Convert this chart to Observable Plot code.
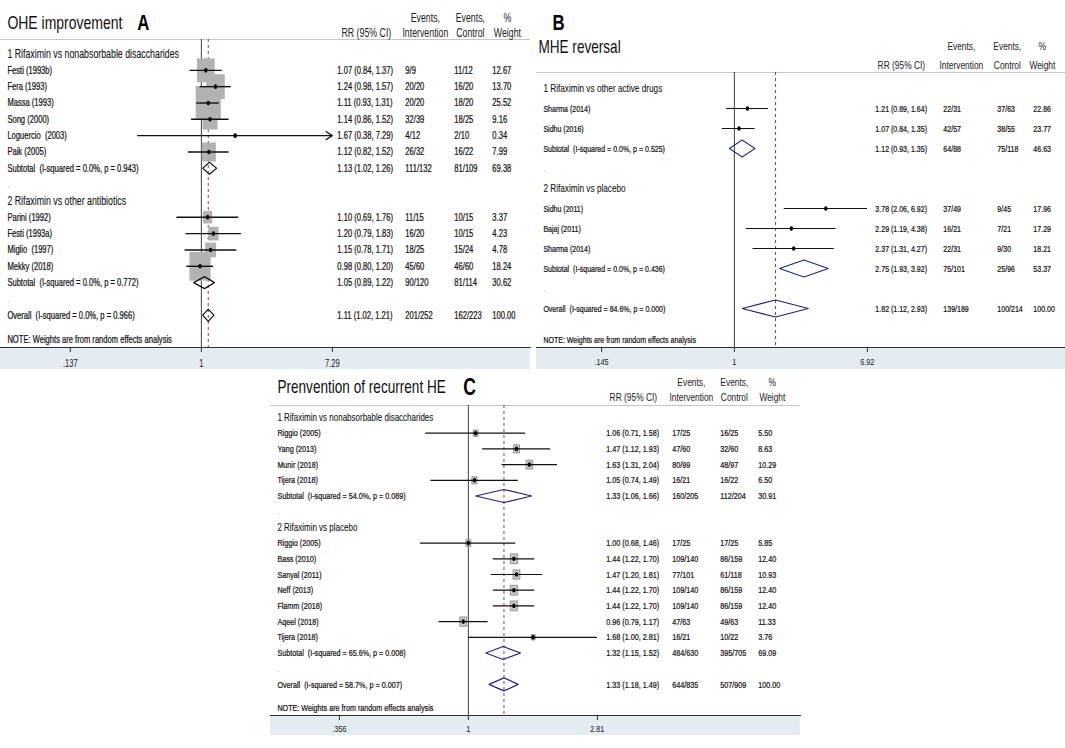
<!DOCTYPE html>
<html><head><meta charset="utf-8">
<script src="https://cdn.jsdelivr.net/npm/d3@7"></script>
<script src="https://cdn.jsdelivr.net/npm/@observablehq/plot@0.6"></script>
<style>
body{margin:0;background:#fff;}
#root{position:relative;width:1065px;height:748px;overflow:hidden;background:#fff;}
.panel{position:absolute;transform-origin:0 0;}
.band{position:absolute;left:0;right:0;background:#e3edf1;}
</style></head><body><div id="root"></div>
<script>
// ================= Panel A : OHE improvement =================
const groupsA = ["1 Rifaximin vs nonabsorbable disaccharides", "2 Rifaximin vs other antibiotics"];
const studiesA = ["Festi (1993b)", "Fera (1993)", "Massa (1993)", "Song (2000)", "Loguercio  (2003)", "Paik (2005)",
                  "Parini (1992)", "Festi (1993a)", "Miglio  (1997)", "Mekky (2018)"];
const groupOfA = [1, 1, 1, 1, 1, 1, 2, 2, 2, 2];
const rrA = [1.07, 1.24, 1.11, 1.14, 1.67, 1.12, 1.10, 1.20, 1.15, 0.98];
const loA = [0.84, 0.98, 0.93, 0.86, 0.38, 0.82, 0.69, 0.79, 0.78, 0.80];
const hiA = [1.37, 1.57, 1.31, 1.52, 7.29, 1.52, 1.76, 1.83, 1.71, 1.20];
const evIntA = ["9/9", "20/20", "20/20", "32/39", "4/12", "26/32", "11/15", "16/20", "18/25", "45/60"];
const evCtlA = ["11/12", "16/20", "18/20", "18/25", "2/10", "16/22", "10/15", "10/15", "15/24", "46/60"];
const weightA = [12.67, 13.70, 25.52, 9.16, 0.34, 7.99, 3.37, 4.23, 4.78, 18.24];
const arrowsA = ["Loguercio  (2003)"];
const subRrA = [1.13, 1.05], subLoA = [1.02, 0.89], subHiA = [1.26, 1.22];
const subIntA = ["111/132", "90/120"], subCtlA = ["81/109", "81/114"], subWA = [69.38, 30.62];
const subI2A = [0.0, 0.0], subPA = [0.943, 0.772];
const overallA = [1.11, 1.02, 1.21];
const overallEvA = ["201/252", "162/223"];
const overallI2PA = [0.0, 0.966];
const ticksA = [0.137, 1, 7.29];
const tickLabelsA = [".137", "1", "7.29"];

// ================= Panel B : MHE reversal =================
const groupsB = ["1 Rifaximin vs other active drugs", "2 Rifaximin vs placebo"];
const studiesB = ["Sharma (2014)", "Sidhu (2016)", "Sidhu (2011)", "Bajaj (2011)", "Sharma (2014)"];
const groupOfB = [1, 1, 2, 2, 2];
const rrB = [1.21, 1.07, 3.78, 2.29, 2.37];
const loB = [0.89, 0.84, 2.06, 1.19, 1.31];
const hiB = [1.64, 1.35, 6.92, 4.38, 4.27];
const evIntB = ["22/31", "42/57", "37/49", "16/21", "22/31"];
const evCtlB = ["37/63", "38/55", "9/45", "7/21", "9/30"];
const weightB = [22.86, 23.77, 17.96, 17.29, 18.21];
const arrowsB = [];
const subRrB = [1.12, 2.75], subLoB = [0.93, 1.93], subHiB = [1.35, 3.92];
const subIntB = ["64/88", "75/101"], subCtlB = ["75/118", "25/96"], subWB = [46.63, 53.37];
const subI2B = [0.0, 0.0], subPB = [0.525, 0.436];
const overallB = [1.82, 1.12, 2.93];
const overallEvB = ["139/189", "100/214"];
const overallI2PB = [84.6, 0.000];
const ticksB = [0.145, 1, 6.92];
const tickLabelsB = [".145", "1", "6.92"];

// ================= Panel C : Prevention of recurrent HE =================
const groupsC = ["1 Rifaximin vs nonabsorbable disaccharides", "2 Rifaximin vs placebo"];
const studiesC = ["Riggio (2005)", "Yang (2013)", "Munir (2018)", "Tijera (2018)",
                  "Riggio (2005)", "Bass (2010)", "Sanyal (2011)", "Neff (2013)", "Flamm (2018)", "Aqeel (2018)", "Tijera (2018)"];
const groupOfC = [1, 1, 1, 1, 2, 2, 2, 2, 2, 2, 2];
const rrC = [1.06, 1.47, 1.63, 1.05, 1.00, 1.44, 1.47, 1.44, 1.44, 0.96, 1.68];
const loC = [0.71, 1.12, 1.31, 0.74, 0.68, 1.22, 1.20, 1.22, 1.22, 0.79, 1.00];
const hiC = [1.58, 1.93, 2.04, 1.49, 1.46, 1.70, 1.81, 1.70, 1.70, 1.17, 2.81];
const evIntC = ["17/25", "47/60", "80/99", "16/21", "17/25", "109/140", "77/101", "109/140", "109/140", "47/63", "16/21"];
const evCtlC = ["16/25", "32/60", "48/97", "16/22", "17/25", "86/159", "61/118", "86/159", "86/159", "49/63", "10/22"];
const weightC = [5.50, 8.63, 10.29, 6.50, 5.85, 12.40, 10.93, 12.40, 12.40, 11.33, 3.76];
const arrowsC = [];
const subRrC = [1.33, 1.32], subLoC = [1.06, 1.15], subHiC = [1.66, 1.52];
const subIntC = ["160/205", "484/630"], subCtlC = ["112/204", "395/705"], subWC = [30.91, 69.09];
const subI2C = [54.0, 65.6], subPC = [0.089, 0.008];
const overallC = [1.33, 1.18, 1.49];
const overallEvC = ["644/835", "507/909"];
const overallI2PC = [58.7, 0.007];
const ticksC = [0.356, 1, 2.81];
const tickLabelsC = [".356", "1", "2.81"];

const NOTE = "NOTE: Weights are from random effects analysis";

// ================= build =================
const SX = 0.74; // the reference image is horizontally compressed
const FONT = "'Liberation Sans', Arial, Helvetica, sans-serif";
const INK = "#141414";

function pack(title, letter, groups, studies, groupOf, rr, lo, hi, ev1, ev2, w, arrows,
              subRr, subLo, subHi, subEv1, subEv2, subW, subI2, subP, ov, ovEv, ovI2P, ticks, tickLabels) {
  return {title, letter, groups, studies, groupOf, rr, lo, hi, ev1, ev2, w, arrows,
          subRr, subLo, subHi, subEv1, subEv2, subW, subI2, subP, ov, ovEv, ovI2P, ticks, tickLabels};
}

function buildRows(d) {
  const rows = [];
  let r = 0;
  d.groups.forEach((g, gi) => {
    rows.push({row: r++, kind: "group", label: g});
    d.studies.forEach((s, i) => {
      if (d.groupOf[i] !== gi + 1) return;
      rows.push({row: r++, kind: "study", label: s, rr: d.rr[i], lo: d.lo[i], hi: d.hi[i],
                 e1: d.ev1[i], e2: d.ev2[i], w: d.w[i], arrow: d.arrows.includes(s)});
    });
    rows.push({row: r++, kind: "pooled",
               label: `Subtotal  (I-squared = ${d.subI2[gi].toFixed(1)}%, p = ${d.subP[gi].toFixed(3)})`,
               rr: d.subRr[gi], lo: d.subLo[gi], hi: d.subHi[gi], e1: d.subEv1[gi], e2: d.subEv2[gi], w: d.subW[gi]});
    rows.push({row: r++, kind: "blank", label: "."});
  });
  rows.push({row: r++, kind: "pooled", overall: true,
             label: `Overall  (I-squared = ${d.ovI2P[0].toFixed(1)}%, p = ${d.ovI2P[1].toFixed(3)})`,
             rr: d.ov[0], lo: d.ov[1], hi: d.ov[2], e1: d.ovEv[0], e2: d.ovEv[1], w: 100});
  return rows;
}

function panel(d, L) {
  const rows = buildRows(d);
  const Wu = L.width / SX;
  const u = v => v / SX;
  const fz = v => v * 0.8 / SX; // font sizes tuned for a 0.8 compression
  const lnHi = Math.log(d.ticks[2]);
  const xDomain = [Math.exp(-L.p1 / (L.pHi - L.p1) * lnHi), Math.exp((L.width - L.p1) / (L.pHi - L.p1) * lnHi)];
  const studies = rows.filter(r => r.kind === "study");
  const pooled = rows.filter(r => r.kind === "pooled");
  const stats = rows.filter(r => r.rr !== undefined);
  const overall = pooled.find(r => r.overall);
  const hh = L.diamondHalf / L.rowStep;
  const diamonds = pooled.flatMap(p => [[p.lo, p.row], [p.rr, p.row - hh], [p.hi, p.row], [p.rr, p.row + hh]]
    .map(([x, y]) => ({id: p.row, x, y})));
  const yTop = (L.frameTop - L.row0) / L.rowStep;
  const f2 = v => v.toFixed(2);
  const T = (data, o) => Plot.text(data, {frameAnchor: "left", textAnchor: "start", lineAnchor: "middle", fill: INK,
    stroke: INK, strokeWidth: 0.25, ...o});
  const H = (text, x, y, o = {}) => Plot.text([text], {frameAnchor: "top-left", lineAnchor: "middle",
    dx: u(x), dy: y - L.frameTop, text: t => t, textAnchor: "middle", fontSize: fz(L.fs.header), fill: "#222", ...o});

  const marks = [
    Plot.ruleY([yTop], {stroke: "#c6c6c6", strokeWidth: 1.2}),
    Plot.ruleX([1], {stroke: "#222", strokeWidth: 1}),
    Plot.ruleX([overall.rr], {stroke: "#8a1c1c", strokeDasharray: "3,3", strokeWidth: 1})
  ];
  if (L.boxR100) marks.push(Plot.dot(studies, {x: "rr", y: "row", r: "w", symbol: "square",
    fill: L.boxFill, stroke: L.boxStroke, strokeWidth: 0.8}));
  marks.push(
    Plot.ruleY(studies.filter(s => !s.arrow), {y: "row", x1: "lo", x2: "hi", stroke: "#111", strokeWidth: L.ciWidth}),
    Plot.arrow(studies.filter(s => s.arrow), {x1: "lo", x2: "hi", y1: "row", y2: "row", stroke: "#111",
      strokeWidth: L.ciWidth, headLength: 10, headAngle: 50}),
    Plot.dot(studies, {x: "rr", y: "row", r: 2.3, fill: "#000"}),
    Plot.line(diamonds, {x: "x", y: "y", z: "id", curve: "linear-closed", stroke: L.diamondColor, strokeWidth: 1.2}),
    T(rows.filter(r => r.kind === "group"), {y: "row", text: "label", dx: u(L.cols.label), fontSize: fz(L.fs.group), strokeWidth: 0.1}),
    T(rows.filter(r => r.kind === "study" || r.kind === "pooled"), {y: "row", text: "label", dx: u(L.cols.label), fontSize: fz(L.fs.row)}),
    T(rows.filter(r => r.kind === "blank"), {y: "row", text: "label", dx: u(L.cols.label), fontSize: fz(L.fs.row), fill: "#aaa", stroke: "none"}),
    T(stats, {y: "row", text: r => `${f2(r.rr)} (${f2(r.lo)}, ${f2(r.hi)})`, dx: u(L.cols.rr), fontSize: fz(L.fs.row)}),
    T(stats, {y: "row", text: "e1", dx: u(L.cols.e1), fontSize: fz(L.fs.row)}),
    T(stats, {y: "row", text: "e2", dx: u(L.cols.e2), fontSize: fz(L.fs.row)}),
    T(stats, {y: "row", text: r => f2(r.w), dx: u(L.cols.w), fontSize: fz(L.fs.row)}),
    H("RR (95% CI)", L.hdr.rr, L.hdr.y2),
    H("Events,", L.hdr.e1, L.hdr.y1), H("Intervention", L.hdr.e1, L.hdr.y2),
    H("Events,", L.hdr.e2, L.hdr.y1), H("Control", L.hdr.e2, L.hdr.y2),
    H("%", L.hdr.w, L.hdr.y1), H("Weight", L.hdr.w, L.hdr.y2),
    H(d.title, L.title.x, L.title.y, {textAnchor: "start", fontSize: fz(L.fs.title), fill: "#111"}),
    H(d.letter, L.letter.x, L.letter.y, {textAnchor: "start", fontSize: fz(L.fs.letter), fontWeight: "bold", fill: "#000"}),
    Plot.text([NOTE], {frameAnchor: "bottom-left", lineAnchor: "middle", dx: u(L.cols.label), dy: L.noteY - L.axisY,
      text: t => t, textAnchor: "start", fontSize: fz(L.fs.row), fill: INK, stroke: INK, strokeWidth: 0.25}),
    // x tick labels
    Plot.text(d.ticks, {x: t => t, frameAnchor: "bottom", lineAnchor: "middle", dy: L.tickDy,
      text: (t, i) => d.tickLabels[i], fontSize: fz(L.fs.tick), fill: INK})
  );

  const opts = {
    width: Wu, height: L.height,
    marginLeft: 0, marginRight: 0, marginTop: L.frameTop, marginBottom: L.height - L.axisY,
    x: {type: "log", domain: xDomain, ticks: d.ticks, tickFormat: () => "",
        tickSize: 5, tickPadding: 2, line: true, label: null},
    y: {domain: [0, 1], range: [L.row0, L.row0 + L.rowStep], axis: null},
    style: {background: "transparent", fontFamily: FONT, fontSize: fz(L.fs.tick) + "px", color: "#111",
            overflow: "visible", position: "absolute", left: "0px", top: "0px"},
    marks
  };
  if (L.boxR100) opts.r = {type: "sqrt", domain: [0, 100], range: [0, L.boxR100]};
  const svg = Plot.plot(opts);

  const div = document.createElement("div");
  div.className = "panel";
  Object.assign(div.style, {left: L.left + "px", top: L.top + "px", width: Wu + "px", height: L.height + "px",
                            transform: `scaleX(${SX})`});
  const band = document.createElement("div");
  band.className = "band";
  band.style.top = L.axisY + "px";
  band.style.height = (L.bandBottom - L.axisY) + "px";
  div.append(band, svg);
  document.getElementById("root").append(div);
}

const dataA = pack("OHE improvement", "A", groupsA, studiesA, groupOfA, rrA, loA, hiA, evIntA, evCtlA, weightA, arrowsA,
  subRrA, subLoA, subHiA, subIntA, subCtlA, subWA, subI2A, subPA, overallA, overallEvA, overallI2PA, ticksA, tickLabelsA);
const dataB = pack("MHE reversal", "B", groupsB, studiesB, groupOfB, rrB, loB, hiB, evIntB, evCtlB, weightB, arrowsB,
  subRrB, subLoB, subHiB, subIntB, subCtlB, subWB, subI2B, subPB, overallB, overallEvB, overallI2PB, ticksB, tickLabelsB);
const dataC = pack("Prenvention of recurrent HE", "C", groupsC, studiesC, groupOfC, rrC, loC, hiC, evIntC, evCtlC, weightC, arrowsC,
  subRrC, subLoC, subHiC, subIntC, subCtlC, subWC, subI2C, subPC, overallC, overallEvC, overallI2PC, ticksC, tickLabelsC);

const layoutA = {left: 0, top: 0, width: 530, height: 370, frameTop: 39, axisY: 347, bandBottom: 369,
  row0: 53.5, rowStep: 16.33, p1: 201, pHi: 332, noteY: 339, tickDy: 16,
  cols: {label: 7, rr: 337, e1: 405, e2: 454, w: 492},
  hdr: {y1: 18, y2: 33, rr: 366, e1: 425, e2: 470, w: 507},
  title: {x: 7, y: 22}, letter: {x: 137, y: 22},
  fs: {title: 17.5, letter: 21, group: 11, row: 9.5, header: 11, tick: 9.5},
  diamondHalf: 6, diamondColor: "#000", boxFill: "#b2b2b2", boxStroke: "none", boxR100: 38, ciWidth: 1.4};
const layoutB = {left: 536, top: 0, width: 529, height: 370, frameTop: 72, axisY: 347, bandBottom: 369,
  row0: 88, rowStep: 20, p1: 198, pHi: 331, noteY: 339, tickDy: 14,
  cols: {label: 7, rr: 339, e1: 407, e2: 461, w: 497},
  hdr: {y1: 46, y2: 65, rr: 365, e1: 425, e2: 471, w: 506},
  title: {x: 2, y: 47}, letter: {x: 16, y: 22},
  fs: {title: 17, letter: 21, group: 10.3, row: 8.8, header: 10.5, tick: 9},
  diamondHalf: 8.5, diamondColor: "#1b1b7a", boxR100: 0, ciWidth: 1.1};
const layoutC = {left: 270, top: 372, width: 530, height: 364, frameTop: 33, axisY: 343, bandBottom: 363,
  row0: 45, rowStep: 15.7, p1: 198, pHi: 327, noteY: 335, tickDy: 13,
  cols: {label: 7, rr: 336, e1: 402, e2: 450, w: 488},
  hdr: {y1: 10, y2: 25, rr: 363, e1: 421, e2: 464, w: 502},
  title: {x: 7, y: 15}, letter: {x: 193, y: 15},
  fs: {title: 17, letter: 22, group: 10, row: 9, header: 10.5, tick: 9},
  diamondHalf: 6.5, diamondColor: "#1b1b7a", boxFill: "#c9c9c9", boxStroke: "#777", boxR100: 15.8, ciWidth: 1.2};

panel(dataA, layoutA);
panel(dataB, layoutB);
panel(dataC, layoutC);
</script>
</body></html>
